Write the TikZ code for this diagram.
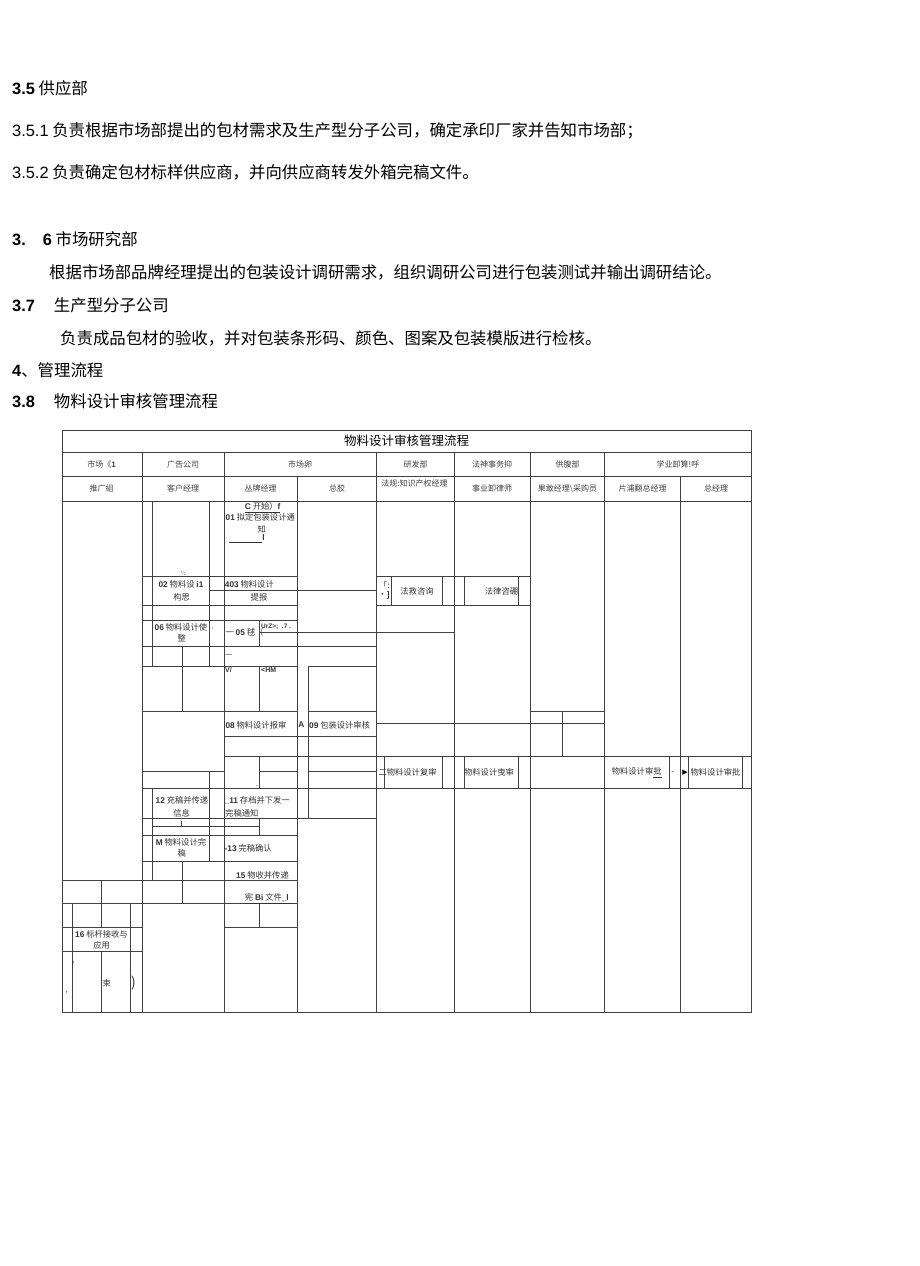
\documentclass[tikz,border=0pt]{standalone}
\usepackage{fontspec}
\setmainfont{Noto Sans CJK SC}
\newfontfamily\arial{Liberation Sans}
\newfontfamily\dejavu{DejaVu Sans}
\newcommand{\nb}[1]{{\arial\bfseries #1}}

\begin{document}
\begin{tikzpicture}[
    x=1pt, y=-1pt,
    every node/.style={inner sep=0pt},
    bodytext/.style={anchor=west, font=\fontsize{16.4}{18}\selectfont},
    headcell/.style={font=\fontsize{8}{10}\selectfont, text=black!75},
    cell/.style={font=\fontsize{8.3}{10}\selectfont, text=black!80},
    tableline/.style={draw=black!75, line width=0.8pt}
]
\useasboundingbox (0,0) rectangle (920,1266);
% Texto
\node[bodytext] (sec35) at (12,88) {\nb{3.5} 供应部};
\node[bodytext] (sec351) at (12,131) {{\arial 3.5.1} 负责根据市场部提出的包材需求及生产型分子公司，确定承印厂家并告知市场部；};
\node[bodytext] (sec352) at (12,172) {{\arial 3.5.2} 负责确定包材标样供应商，并向供应商转发外箱完稿文件。};
\node[bodytext] (sec36) at (12,239) {\nb{3.}\hspace{17pt}\nb{6} 市场研究部};
\node[bodytext] (sec36text) at (49,272) {根据市场部品牌经理提出的包装设计调研需求，组织调研公司进行包装测试并输出调研结论。};
\node[bodytext] (sec37) at (12,305) {\nb{3.7}\hspace{19pt}生产型分子公司};
\node[bodytext] (sec37text) at (60,338) {负责成品包材的验收，并对包装条形码、颜色、图案及包装模版进行检核。};
\node[bodytext] (sec4) at (12,370) {\nb{4}、管理流程};
\node[bodytext] (sec38) at (12,401) {\nb{3.8}\hspace{19pt}物料设计审核管理流程};
% Marco y cabecera
\draw[tableline] (62.7,430) rectangle (751,1012);
\draw[tableline] (62.7,452) -- (751,452) (62.7,476) -- (751,476) (62.7,501) -- (751,501);
\draw[tableline] (142.7,452) -- (142.7,1012) (224,452) -- (224,1012) (376.7,452) -- (376.7,1012);
\draw[tableline] (454,452) -- (454,1012) (530.7,452) -- (530.7,1012) (604.3,452) -- (604.3,1012);
\draw[tableline] (297.3,476) -- (297.3,1012) (680.7,476) -- (680.7,1012);
\node[font=\fontsize{12.5}{14}\selectfont] (tableTitle) at (406.7,440.5) {物料设计审核管理流程};
\node[headcell] (hMarketGroup) at (101.7,464.3) {市场《\nb{1}};
\node[headcell] (hAgency) at (183,464.3) {广告公司};
\node[headcell] (hMarketDept) at (300,464.3) {市场卵};
\node[headcell] (hRnd) at (415.5,464.3) {研发部};
\node[headcell] (hLegal) at (492,464.3) {法神事务抑};
\node[headcell] (hSupply) at (567.5,464.3) {供腹部};
\node[headcell] (hBusiness) at (678,464.3) {学业卸算!呼};
\node[headcell] (hPromo) at (101.7,488.5) {推广組};
\node[headcell] (hAccount) at (183,488.5) {客户经理};
\node[headcell] (hBrand) at (260.7,488.5) {丛牌经理};
\node[headcell] (hChief) at (337,488.5) {总胶};
\node[headcell] (hIpMgr) at (414.5,483.5) {法规:知识产权经理};
\node[headcell] (hCounsel) at (492,488.5) {事业卸律师};
\node[headcell] (hPurchase) at (567.5,488.5) {果敢经理\textbackslash 采购员};
\node[headcell] (hDivision) at (642.5,488.5) {片浦翻总经理};
\node[headcell] (hGm) at (716,488.5) {总经理};
% Celdas del cuerpo
\draw[tableline] (142.7,576.7) -- (297.3,576.7) (376.7,576.7) -- (530.7,576.7);
\draw[tableline] (209.5,590.7) -- (376.7,590.7);
\draw[tableline] (142.7,605) -- (297.3,605) (376.7,605) -- (530.7,605);
\draw[tableline] (142.7,620) -- (297.3,620) (259.7,632.7) -- (454,632.7);
\draw[tableline] (142.7,646.3) -- (376.7,646.3);
\draw[tableline] (142.7,666.7) -- (297.3,666.7) (308,666.7) -- (376.7,666.7);
\draw[tableline] (142.7,711.7) -- (297.3,711.7) (308,711.7) -- (376.7,711.7) (530.7,711.7) -- (604.3,711.7);
\draw[tableline] (376.7,723.3) -- (604.3,723.3) (224,736.7) -- (376.7,736.7);
\draw[tableline] (224,756.7) -- (751,756.7);
\draw[tableline] (142.7,771.7) -- (224,771.7) (259.7,771.7) -- (297.3,771.7) (308,771.7) -- (376.7,771.7);
\draw[tableline] (142.7,788.3) -- (751,788.3);
\draw[tableline] (142.7,818.3) -- (376.7,818.3) (152.7,826) -- (259.7,826) (181.5,820.5) -- (181.5,826);
\draw[tableline] (142.7,835) -- (297.3,835) (142.7,861.7) -- (297.3,861.7);
\draw[tableline] (62.7,880.7) -- (297.3,880.7) (62.7,903.3) -- (297.3,903.3);
\draw[tableline] (62.7,927.3) -- (142.7,927.3) (224,927.3) -- (297.3,927.3) (62.7,951.7) -- (142.7,951.7);
\draw[tableline] (152.7,501) -- (152.7,666.7) (152.7,788.3) -- (152.7,880.7);
\draw[tableline] (182,646.3) -- (182,711.7) (182,861.7) -- (182,903.3);
\draw[tableline] (209.5,501) -- (209.5,666.7) (209.5,771.7) -- (209.5,861.7);
\draw[tableline] (259.7,620) -- (259.7,646.3) (259.7,666.7) -- (259.7,711.7) (259.7,756.7) -- (259.7,788.3);
\draw[tableline] (259.7,818.3) -- (259.7,835) (259.7,903.3) -- (259.7,927.3);
\draw[tableline] (308,666.7) -- (308,818.3);
\draw[tableline] (391.7,576.7) -- (391.7,605) (442.7,576.7) -- (442.7,605) (464,576.7) -- (464,605) (518.3,576.7) -- (518.3,605);
\draw[tableline] (562.7,711.7) -- (562.7,756.7);
\draw[tableline] (384.5,756.7) -- (384.5,788.3) (442.7,756.7) -- (442.7,788.3) (464,756.7) -- (464,788.3) (518.3,756.7) -- (518.3,788.3);
\draw[tableline] (669.3,756.7) -- (669.3,788.3) (688.3,756.7) -- (688.3,788.3) (742.3,756.7) -- (742.3,788.3);
\draw[tableline] (72.7,903.3) -- (72.7,1012) (101.7,880.7) -- (101.7,927.3) (101.7,951.7) -- (101.7,1012) (130.7,903.3) -- (130.7,1012);
% Pasos
\node[cell] (start) at (262.7,507.5) {\underline{\nb{C} 开始）\nb{f}}};
\node[cell] (step01) at (260.3,517.5) {\nb{01} 拟定包装设计通};
\node[cell] (step01b) at (261.7,529.3) {知};
\node[cell, anchor=east] (step01c) at (265,538.5) {\underline{\hspace{33pt}}\nb{l}};
\node[cell, text=black!45, font=\fontsize{6}{7}\selectfont] (mark1) at (183.3,573.3) {½};
\node[cell] (step02) at (181,584.5) {\nb{02} 物料设 \nb{i1}};
\node[cell] (step02b) at (181.7,597) {构思};
\node[cell, anchor=west] (step03) at (224.7,584.3) {\nb{403} 物料设计};
\node[cell] (step03b) at (259,597.7) {提报};
\node[cell] (bracketA) at (384.5,585.5) {「:};
\node[cell] (bracketB) at (384,595) {•\nb{]}};
\node[cell] (legalAdvice) at (417,591.7) {法救咨询};
\node[cell] (legalCounsel) at (501.5,591.7) {法律咨硼};
\node[cell] (step06) at (181,627) {\nb{06} 物料设计使};
\node[cell] (step06b) at (181.7,638.5) {整};
\node[cell, font=\fontsize{5}{6}\selectfont] (dot1) at (212.5,629) {•};
\node[cell, anchor=west] (step05) at (225.3,632.5) {一 \nb{05} 毬（};
\node[cell, anchor=west, font=\fontsize{6.5}{7}\selectfont] (noise1) at (261,627) {\nb{UrZ>;\ \ .7 .}};
\node[cell, anchor=west] (dash1) at (225,656) {—};
\node[cell, anchor=west, font=\fontsize{7}{8}\selectfont] (noise2) at (225,670.5) {\nb{V/}};
\node[cell, anchor=west, font=\fontsize{7}{8}\selectfont] (noise3) at (261,670.5) {\nb{<HM}};
\node[cell, anchor=west] (step08) at (225.3,725) {\nb{08} 物料设计报审};
\node[cell] (mark2) at (301.3,725) {\nb{A}};
\node[cell, anchor=west] (step09) at (309,725) {\nb{09} 包装设计审核};
\node[cell, font=\fontsize{5}{6}\selectfont] (mark3) at (258.7,786) {、};
\node[cell, anchor=west] (review1) at (378.3,772.7) {二物料设计复审};
\node[cell] (review2) at (489,772.7) {物料设计曳审};
\node[cell] (approve1) at (636.7,772.7) {物料设计审\underline{批}};
\node[cell] (mark4) at (672.7,772.7) {-};
\node[cell, font=\dejavu\fontsize{7}{8}\selectfont, text=black] (arrowMark) at (685,772.7) {▶};
\node[cell] (approve2) at (715.5,772.7) {物料设计审批};
\node[cell] (step12) at (182,800.7) {\nb{12} 充稿并传递};
\node[cell] (step12b) at (181.7,813.3) {信息};
\node[cell, anchor=west] (step11) at (224.5,800.7) {\nb{\_11} 存档并下发一};
\node[cell, anchor=west] (step11b) at (225,813.3) {完稿通知};
\node[cell] (step14) at (181,842) {\nb{M} 物料设计完};
\node[cell] (step14b) at (181.7,853.3) {稿};
\node[cell, anchor=west] (step13) at (224.5,848.3) {\nb{-13} 完稿确认};
\node[cell, anchor=east] (step15) at (289,875) {\nb{15} 物收并传递};
\node[cell, anchor=east] (step15b) at (289,898.3) {\underline{宪 \nb{Bi} 文件\_\nb{l}}};
\node[cell] (step16) at (101.5,934) {\nb{16} 标杆接收与};
\node[cell] (step16b) at (101.7,945.5) {应用};
\node[cell] (tick1) at (73,965) {\nb{'}};
\node[cell, font=\fontsize{6}{7}\selectfont] (tick2) at (66.5,993) {\nb{,}};
\node[cell, anchor=west] (endText) at (102.5,983.3) {束};
\node[cell, font=\fontsize{14}{16}\selectfont] (endParen) at (133.5,983.3) {)};
\end{tikzpicture}
\end{document}
